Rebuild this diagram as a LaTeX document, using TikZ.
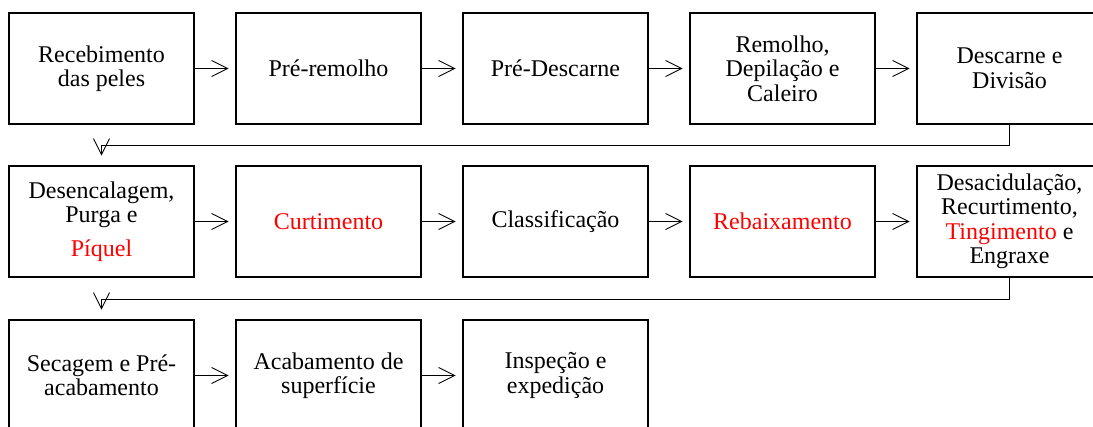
\documentclass[tikz,border=0pt]{standalone}
\usepackage{fontspec}
\usepackage{tikz}
\usetikzlibrary{arrows.meta}
\usepackage{xcolor}
\setmainfont{Liberation Serif}
\definecolor{TextRed}{HTML}{FF0000}
\newcommand\noderec{Recebimento\\das peles}
\newcommand\nodepre{Pré-remolho}
\newcommand\nodepd{Pré-Descarne}
\newcommand\noderem{Remolho,\\Depilação e\\Caleiro}
\newcommand\nodedd{Descarne e\\Divisão}
\newcommand\nodedes{Desencalagem,\\Purga e\\[9pt]\textcolor{TextRed}{Píquel}}
\newcommand\nodecur{\textcolor{TextRed}{Curtimento}}
\newcommand\nodecla{Classificação}
\newcommand\nodereb{\textcolor{TextRed}{Rebaixamento}}
\newcommand\nodedrt{Desacidulação,\\Recurtimento,\\\textcolor{TextRed}{Tingimento} e\\Engraxe}
\newcommand\nodesec{Secagem e Pré-\\acabamento}
\newcommand\nodeaca{Acabamento de\\superfície}
\newcommand\nodeins{Inspeção e\\expedição}
\tikzstyle{stepnode} = [rectangle, draw=black, line width=2.8pt, minimum width=185pt, minimum height=111pt, align=center, text=black, font=\rmfamily\fontsize{24pt}{24.5pt}\selectfont]
\tikzset{>={Straight Barb[length=16pt,width=16pt]}, every picture/.style={line width=0.9pt}}

\begin{document}
\begin{tikzpicture}[x=1pt, y=-1pt]
\useasboundingbox (0,0) rectangle (1093,426);
\clip (0,0) rectangle (1093,426);
\node[stepnode] (rec) at (101.5, 68.5) {\noderec};
\node[stepnode] (pre) at (328.5, 68.5) {\nodepre};
\node[stepnode] (pd) at (555.5, 68.5) {\nodepd};
\node[stepnode] (rem) at (782.5, 68.5) {\noderem};
\node[stepnode] (dd) at (1009.5, 68.5) {\nodedd};
\node[stepnode] (des) at (101.5, 221.5) {\nodedes};
\node[stepnode] (cur) at (328.5, 221.5) {\nodecur};
\node[stepnode] (cla) at (555.5, 221.5) {\nodecla};
\node[stepnode] (reb) at (782.5, 221.5) {\nodereb};
\node[stepnode] (drt) at (1009.5, 221.5) {\nodedrt};
\node[stepnode] (sec) at (101.5, 375.5) {\nodesec};
\node[stepnode] (aca) at (328.5, 375.5) {\nodeaca};
\node[stepnode] (ins) at (555.5, 375.5) {\nodeins};
\draw [->, shorten >=6pt] (rec) -- (pre);
\draw [->, shorten >=6pt] (pre) -- (pd);
\draw [->, shorten >=6pt] (pd) -- (rem);
\draw [->, shorten >=6pt] (rem) -- (dd);
\draw [->, shorten >=9pt] (dd.south) -- ++(0,20) -| (des.north);
\draw [->, shorten >=6pt] (des) -- (cur);
\draw [->, shorten >=6pt] (cur) -- (cla);
\draw [->, shorten >=6pt] (cla) -- (reb);
\draw [->, shorten >=6pt] (reb) -- (drt);
\draw [->, shorten >=9pt] (drt.south) -- ++(0,21) -| (sec.north);
\draw [->, shorten >=6pt] (sec) -- (aca);
\draw [->, shorten >=6pt] (aca) -- (ins);
\end{tikzpicture}
\end{document}
